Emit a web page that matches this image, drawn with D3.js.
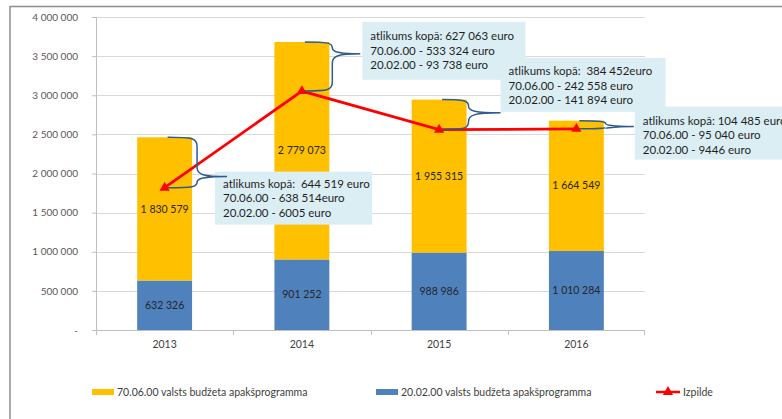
<!DOCTYPE html>
<html>
<head>
<meta charset="utf-8">
<script src="https://cdn.jsdelivr.net/npm/d3@7"></script>
<style>
  body { margin: 0; background: #fff; }
  svg { display: block; font-family: Lato, "Liberation Sans", sans-serif; }
</style>
</head>
<body>
<div id="chart"></div>
<script>
// data
var years = ["2013", "2014", "2015", "2016"]
var budget2002 = [632326, 901252, 988986, 1010284]
var budget7006 = [1830579, 2779073, 1955315, 1664549]
var izpilde = [1818386, 3053262, 2559849, 2570348]
var yTicks = [0, 500000, 1000000, 1500000, 2000000, 2500000, 3000000, 3500000, 4000000]
var notes = [
  ["atlikums kopā:  644 519 euro", "70.06.00 - 638 514euro", "20.02.00 - 6005 euro"],
  ["atlikums kopā: 627 063 euro", "70.06.00 - 533 324 euro", "20.02.00 - 93 738 euro"],
  ["atlikums kopā:  384 452euro", "70.06.00 - 242 558 euro", "20.02.00 - 141 894 euro"],
  ["atlikums kopā: 104 485 euro", "70.06.00 - 95 040 euro", "20.02.00 - 9446 euro"]
]
var legendNames = ["70.06.00 valsts budžeta apakšprogramma", "20.02.00 valsts budžeta apakšprogramma", "Izpilde"]

// where each callout sits relative to its brace
var noteLayout = [
  {gap: 5, tip: 30, frac: 0.78, dx: 18, dy: -5, w: 157, h: 53, ty: 12},
  {gap: 3, tip: 28, frac: 0.24, dx: 30, dy: -32, w: 163, h: 58, ty: 14},
  {gap: 2, tip: 32, frac: 0.44, dx: 32, dy: -55, w: 165, h: 54, ty: 13},
  {gap: 2, tip: 28, frac: 0.72, dx: 29, dy: -20, w: 160, h: 53, ty: 14}
]

var W = 782, H = 419
var plotL = 96, plotR = 645, plotT = 17, plotB = 330

var fmt = d3.formatLocale({decimal: ",", thousands: " ", grouping: [3], currency: ["", ""]}).format(",d")

var svg = d3.select("#chart").append("svg")
    .attr("width", W)
    .attr("height", H)

// frame
svg.append("line").attr("x1", 10).attr("x2", W).attr("y1", 6.5).attr("y2", 6.5)
    .attr("stroke", "#8c8c8c").attr("stroke-width", 1.5)
svg.append("line").attr("x1", 10).attr("x2", 10).attr("y1", 6).attr("y2", H)
    .attr("stroke", "#8c8c8c").attr("stroke-width", 1.5)

var x = d3.scaleBand().domain(years).range([plotL, plotR]).padding(0)
var y = d3.scaleLinear().domain([0, 4000000]).range([plotB, plotT])
var barW = x.bandwidth() * 0.4
var cx = function(d) { return x(d) + x.bandwidth() / 2 }

// gridlines
svg.append("g").selectAll("line")
  .data(yTicks.slice(1))
  .enter().append("line")
    .attr("x1", plotL).attr("x2", plotR)
    .attr("y1", function(d) { return Math.round(y(d)) + 0.5 })
    .attr("y2", function(d) { return Math.round(y(d)) + 0.5 })
    .attr("stroke", "#d9d9d9")

// y axis
var yAxis = d3.axisLeft(y).tickValues(yTicks).tickSize(4).tickPadding(14)
    .tickFormat(function(d) { return d === 0 ? "-" : fmt(d) })
var gy = svg.append("g").attr("transform", "translate(" + plotL + ",0)").call(yAxis)
gy.select(".domain").attr("stroke", "#bfbfbf")
gy.selectAll(".tick line").attr("stroke", "#bfbfbf")
gy.selectAll("text").attr("fill", "#595959").style("font-size", "10px").style("font-family", "Lato")

// x axis with ticks at category boundaries
svg.append("line").attr("x1", plotL).attr("x2", plotR).attr("y1", plotB + 0.5).attr("y2", plotB + 0.5)
    .attr("stroke", "#bfbfbf")
svg.append("g").selectAll("line")
  .data(years.concat(["end"]))
  .enter().append("line")
    .attr("x1", function(d, i) { return i < years.length ? Math.round(x(d)) + 0.5 : plotR - 0.5 })
    .attr("x2", function(d, i) { return i < years.length ? Math.round(x(d)) + 0.5 : plotR - 0.5 })
    .attr("y1", plotB).attr("y2", plotB + 5)
    .attr("stroke", "#bfbfbf")
svg.append("g").selectAll("text")
  .data(years)
  .enter().append("text")
    .attr("x", cx)
    .attr("y", plotB + 18)
    .attr("text-anchor", "middle")
    .attr("fill", "#404040")
    .style("font-size", "10.5px")
    .text(function(d) { return d })

// stacked bars
var rows = years.map(function(d, i) {
  return {year: d, a: budget2002[i], b: budget7006[i], izp: izpilde[i]}
})

svg.append("g").selectAll("rect")
  .data(rows)
  .enter().append("rect")
    .attr("x", function(d) { return cx(d.year) - barW / 2 })
    .attr("width", barW)
    .attr("y", function(d) { return y(d.a) })
    .attr("height", function(d) { return y(0) - y(d.a) })
    .attr("fill", "#4f81bd")

svg.append("g").selectAll("rect")
  .data(rows)
  .enter().append("rect")
    .attr("x", function(d) { return cx(d.year) - barW / 2 })
    .attr("width", barW)
    .attr("y", function(d) { return y(d.a + d.b) })
    .attr("height", function(d) { return y(d.a) - y(d.a + d.b) })
    .attr("fill", "#ffc000")

// value labels in the middle of each segment
svg.append("g").selectAll("text")
  .data(rows)
  .enter().append("text")
    .attr("x", function(d) { return cx(d.year) })
    .attr("y", function(d) { return y(d.a / 2) })
    .attr("dy", "0.35em")
    .attr("text-anchor", "middle")
    .attr("fill", "#262626")
    .style("font-size", "10.5px")
    .text(function(d) { return fmt(d.a) })

svg.append("g").selectAll("text")
  .data(rows)
  .enter().append("text")
    .attr("x", function(d) { return cx(d.year) })
    .attr("y", function(d) { return y(d.a + d.b / 2) })
    .attr("dy", "0.35em")
    .attr("text-anchor", "middle")
    .attr("fill", "#262626")
    .style("font-size", "10.5px")
    .text(function(d) { return fmt(d.b) })

// izpilde line
var line = d3.line()
    .x(function(d) { return cx(d.year) })
    .y(function(d) { return y(d.izp) })

svg.append("path")
    .datum(rows)
    .attr("d", line)
    .attr("fill", "none")
    .attr("stroke", "#ff0000")
    .attr("stroke-width", 2.75)

var tri = d3.symbol().type(d3.symbolTriangle).size(45)
svg.append("g").selectAll("path")
  .data(rows)
  .enter().append("path")
    .attr("d", tri)
    .attr("transform", function(d) { return "translate(" + cx(d.year) + "," + y(d.izp) + ")" })
    .attr("fill", "#ff0000")

// callouts: brace from bar top down to izpilde point, pointing to a box
var brace = function(x0, xv, xt, yTop, yBot, yTip) {
  var r1 = Math.min(9, (yTip - yTop) / 2), r2 = Math.min(9, (yBot - yTip) / 2)
  return "M" + x0 + "," + yTop +
    "C" + (xv - 4) + "," + yTop + " " + xv + "," + (yTop + 1) + " " + xv + "," + (yTop + r1) +
    "L" + xv + "," + (yTip - r1) +
    "C" + xv + "," + (yTip - 2) + " " + (xv + 6) + "," + yTip + " " + xt + "," + yTip +
    "M" + xt + "," + yTip +
    "C" + (xv + 6) + "," + yTip + " " + xv + "," + (yTip + 2) + " " + xv + "," + (yTip + r2) +
    "L" + xv + "," + (yBot - r2) +
    "C" + xv + "," + (yBot - 1) + " " + (xv - 4) + "," + yBot + " " + x0 + "," + yBot
}

rows.forEach(function(d, i) {
  var L = noteLayout[i]
  var yTop = y(d.a + d.b), yBot = y(d.izp)
  var xv = cx(d.year) + barW / 2 + L.gap
  var yTip = yTop + (yBot - yTop) * L.frac
  var g = svg.append("g")
  g.append("rect")
    .attr("x", xv + L.dx)
    .attr("y", yTip + L.dy)
    .attr("width", L.w)
    .attr("height", L.h)
    .attr("fill", "#dbeef4")
  g.append("path")
    .attr("d", brace(cx(d.year) + 3, xv, xv + L.tip, yTop, yBot, yTip))
    .attr("fill", "none")
    .attr("stroke", "#2f5b8f")
    .attr("stroke-width", 1.5)
  g.selectAll("text")
    .data(notes[i])
    .enter().append("text")
      .attr("x", xv + L.dx + 8)
      .attr("y", function(t, k) { return yTip + L.dy + L.ty + k * 14.7 })
      .attr("dy", "0.35em")
      .attr("fill", "#1f1f1f")
      .style("font-size", "11.5px")
      .style("white-space", "pre")
      .text(function(t) { return t })
})

// legend
var legY = 392
svg.append("rect").attr("x", 92).attr("y", legY - 3).attr("width", 22).attr("height", 6).attr("fill", "#ffc000")
svg.append("rect").attr("x", 376).attr("y", legY - 3).attr("width", 22).attr("height", 6).attr("fill", "#4f81bd")
svg.append("line").attr("x1", 656).attr("x2", 680).attr("y1", legY).attr("y2", legY)
    .attr("stroke", "#ff0000").attr("stroke-width", 2.5)
svg.append("path").attr("d", tri).attr("transform", "translate(668," + legY + ")").attr("fill", "#ff0000")

svg.append("g").selectAll("text")
  .data(legendNames)
  .enter().append("text")
    .attr("x", function(d, i) { return [117, 401, 683][i] })
    .attr("y", legY)
    .attr("dy", "0.35em")
    .attr("fill", "#404040")
    .style("font-size", "10.5px")
    .text(function(d) { return d })
</script>
</body>
</html>
